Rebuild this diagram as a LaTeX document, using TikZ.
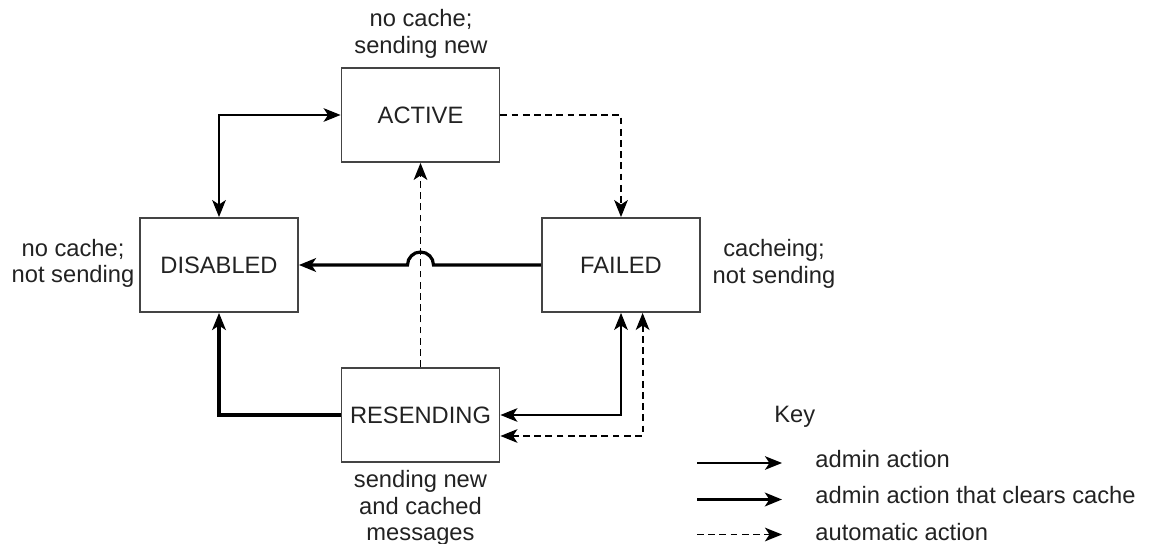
\documentclass[tikz,border=0pt]{standalone}
\usepackage{fontspec}
\setmainfont{Liberation Sans}
\usetikzlibrary{arrows.meta,calc}
\definecolor{txt}{HTML}{222222}
\definecolor{bord}{HTML}{444444}
\begin{document}
\begin{tikzpicture}[x=0.5pt,y=-0.5pt,
  every node/.style={font=\fontsize{11.85pt}{13.2pt}\selectfont, text=txt},
  state/.style={draw=bord, line width=0.9pt, minimum width=79pt, minimum height=47pt, inner sep=0pt},
  lbl/.style={align=center, inner sep=0pt},
  tip/.style={-{Stealth[length=8.5pt,width=6.8pt,inset=2.2pt]}},
  tips/.style={{Stealth[length=8.5pt,width=6.8pt,inset=2.2pt]}-{Stealth[length=8.5pt,width=6.8pt,inset=2.2pt]}},
  admin/.style={line width=0.8pt, black},
  clears/.style={line width=1.6pt, black},
  auto/.style={line width=0.9pt, black, dash pattern=on 3.4pt off 2.2pt}
]
\useasboundingbox (0,0) rectangle (1150,544);

% states
\node[state] (ACTIVE) at (420.5,115) {ACTIVE};
\node[state] (DISABLED) at (219,265) {DISABLED};
\node[state] (FAILED) at (621,265) {FAILED};
\node[state] (RESENDING) at (420.5,415) {RESENDING};

% state descriptions
\node[lbl] (actdesc) at (421,34) {no cache;\\sending new};
\node[lbl] (disdesc) at (73,263.5) {no cache;\\not sending};
\node[lbl] (faildesc) at (774,264) {cacheing;\\not sending};
\node[lbl] (resdesc) at (420.5,508) {sending new\\and cached\\messages};

% connectors
\draw[admin,tips] (DISABLED.north) |- (ACTIVE.west);
\draw[auto,tip] (ACTIVE.east) -| (FAILED.north);
\draw[auto,tip] (RESENDING.north) -- (ACTIVE.south);
\draw[clears,tip] (FAILED.west) -- ([xshift=6.5pt]RESENDING.north |- FAILED.west)
   arc[start angle=0,end angle=180,radius=6.5pt] -- (DISABLED.east);
\draw[clears,tip] (RESENDING.west) -| (DISABLED.south);
\draw[admin,tips] (FAILED.south) |- (RESENDING.east);
\draw[auto,tips] ([xshift=10.8pt]FAILED.south) |- ([yshift=-10.5pt]RESENDING.east);

% key
\node[inner sep=0pt, anchor=base west] (key) at (774,423) {Key};
\node[inner sep=0pt, anchor=base west] (k1t) at (815,467.5) {admin action};
\node[inner sep=0pt, anchor=base west] (k2t) at (815,503.5) {admin action that clears cache};
\node[inner sep=0pt, anchor=base west] (k3t) at (815,540) {automatic action};
\coordinate (k1) at (697,463);
\coordinate (k2) at (697,499.5);
\coordinate (k3) at (697,534.5);
\draw[admin,tip] (k1) -- ([xshift=-16.5pt]k1 -| k1t.west);
\draw[clears,tip] (k2) -- ([xshift=-16.5pt]k2 -| k2t.west);
\draw[auto,tip] (k3) -- ([xshift=-16.5pt]k3 -| k3t.west);
\end{tikzpicture}
\end{document}
